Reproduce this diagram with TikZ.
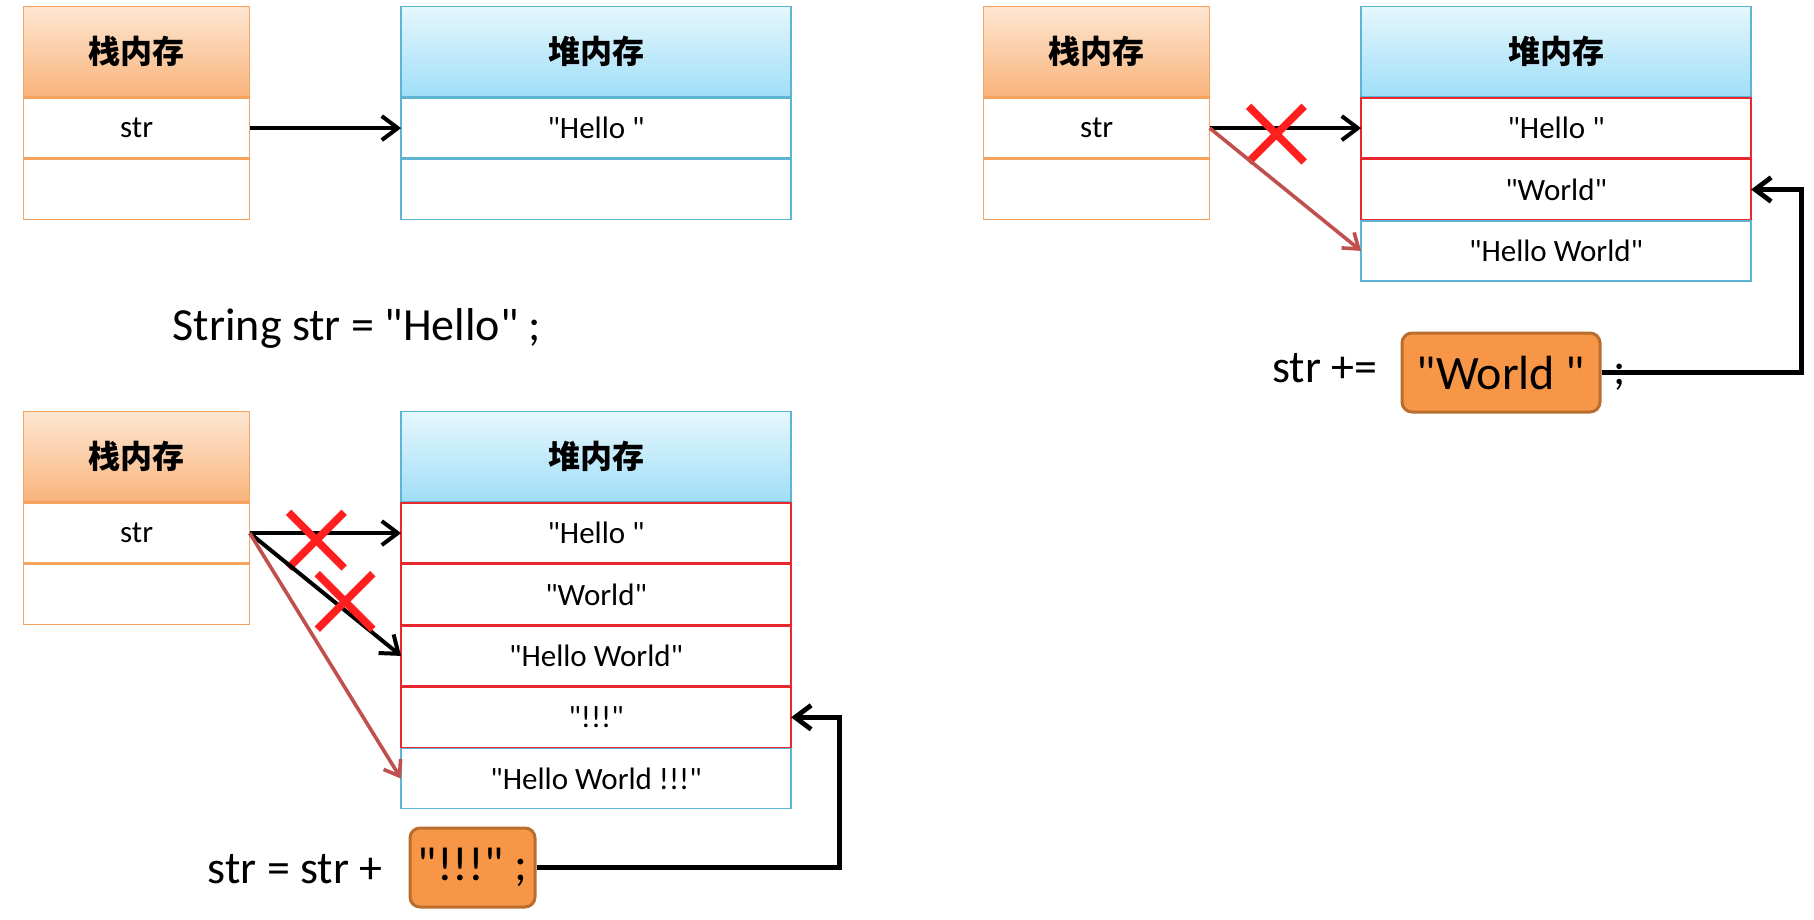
\documentclass[tikz,border=0pt]{standalone}
\usepackage{fontspec}
\setmainfont{Carlito}[Ligatures=TeXOff]
\newfontfamily\cjk{Noto Sans CJK SC}
\usetikzlibrary{arrows.meta,
                matrix,
                positioning,
                shapes.misc}
\definecolor{stkline}{HTML}{F5A35E}
\definecolor{stktop}{HTML}{FDE6D2}
\definecolor{stkbot}{HTML}{F9B47C}
\definecolor{heapline}{HTML}{5DB5D3}
\definecolor{heaptop}{HTML}{E5F7FD}
\definecolor{heapbot}{HTML}{A0DEF7}
\definecolor{rowred}{HTML}{E8282C}
\definecolor{xred}{HTML}{FF1F1F}
\definecolor{ptrbrown}{HTML}{C0504D}
\definecolor{valfill}{HTML}{F79646}
\definecolor{valline}{HTML}{B96D2E}
\newcommand\HDfont{\cjk\bfseries\fontsize{16}{19}\selectfont}
\newcommand\RWfont{\fontsize{15.5}{18}\selectfont}
\newcommand\CDfont{\fontsize{23}{28}\selectfont}
\newcommand\VLfont{\fontsize{24}{29}\selectfont}

\begin{document}
\begin{tikzpicture}[x=0.5pt, y=-0.5pt,
   MEM/.style = {matrix of nodes, nodes in empty cells,
                 nodes={draw, minimum height=30pt, anchor=center,
                        inner sep=0pt, outer sep=0pt, line width=0.7pt,
                        font=\RWfont},
                 row sep=0pt, inner sep=0pt, outer sep=0pt,
                 anchor=north west},
   STK/.style = {MEM, nodes={draw=stkline, minimum width=113pt}},
  HEAP/.style = {MEM, nodes={draw=heapline, minimum width=195pt}},
   SHD/.style = {top color=stktop, bottom color=stkbot,
                 minimum height=45pt, font=\HDfont},  % stack header
   HHD/.style = {top color=heaptop, bottom color=heapbot,
                 minimum height=45pt, font=\HDfont},  % heap header
    CR/.style = {draw=rowred},                        % Color Red row
   ARR/.style = {-{Straight Barb[length=8pt,width=12pt]}, line width=2pt},
   OLD/.style = {-{Straight Barb[length=7pt,width=10pt]}, line width=1.8pt,
                 draw=ptrbrown},
    XM/.style = {cross out, draw=xred, line width=3.8pt, minimum size=24pt,
                 inner sep=0pt},
  CODE/.style = {font=\CDfont, inner sep=0pt},
   VAL/.style = {draw=valline, fill=valfill, line width=1.5pt,
                 rounded corners=5pt, font=\VLfont, minimum height=39.5pt},
   LNK/.style = {ARR, line width=2.4pt}
                        ]
\useasboundingbox (0,0) rectangle (1814,920);
% top left: String str = "Hello"
\matrix (s1) [STK] at (23,6)
{
 |[SHD]| 栈内存 \\
 str \\
 \\
};
\matrix (h1) [HEAP, right=75pt of s1.north east, anchor=north west]
{
 |[HHD]| 堆内存 \\
 "Hello\ " \\
 \\
};
\draw[ARR] (s1-2-1.east) -- (h1-2-1.west);
\node (c1) [CODE, anchor=base] at (357,340) {String str = "Hello" ;};
% top right: str += "World"
\matrix (s2) [STK] at (983,6)
{
 |[SHD]| 栈内存 \\
 str \\
 \\
};
\matrix (h2) [HEAP, right=75pt of s2.north east, anchor=north west]
{
 |[HHD]| 堆内存 \\
 |[CR]| "Hello\ " \\
 |[CR]| "World" \\
 "Hello World" \\
};
\draw[ARR] (s2-2-1.east) -- node[XM, pos=.44, yshift=-3pt] {} (h2-2-1.west);
\draw[OLD] (s2-2-1.east) -- (h2-4-1.west);
\node (w2) [VAL, minimum width=99pt] at (1501,372.5) {"World\ "};
\node (a2) [CODE, anchor=base east] at (1378,382) {str +=};
\coordinate (t2) at ([xshift=25pt]h2-3-1.east);
\draw[LNK] (w2.east) -| (t2) -- (h2-3-1.east);
\node (m2) [CODE, anchor=base west] at (1613,384) {;};
% bottom left: str = str + "!!!"
\matrix (s3) [STK] at (23,411)
{
 |[SHD]| 栈内存 \\
 str \\
 \\
};
\matrix (h3) [HEAP, right=75pt of s3.north east, anchor=north west]
{
 |[HHD]| 堆内存 \\
 |[CR]| "Hello\ " \\
 |[CR]| "World" \\
 |[CR]| "Hello World" \\
 |[CR]| "!!!" \\
 "Hello World !!!" \\
};
\draw[ARR] (s3-2-1.east) -- node[XM, pos=.44, yshift=-3.5pt] {} (h3-2-1.west);
\draw[ARR] (s3-2-1.east) -- node[XM, pos=.63, yshift=4.5pt] {} (h3-4-1.west);
\draw[OLD] (s3-2-1.east) -- (h3-6-1.west);
\node (w3) [VAL, minimum width=62.5pt] at (472.5,867.5) {"!!!" ;};
\node (a3) [CODE, anchor=base east] at (383,883) {str = str +};
\coordinate (t3) at ([xshift=24pt]h3-5-1.east);
\draw[LNK] (w3.east) -| (t3) -- (h3-5-1.east);
\end{tikzpicture}
\end{document}
